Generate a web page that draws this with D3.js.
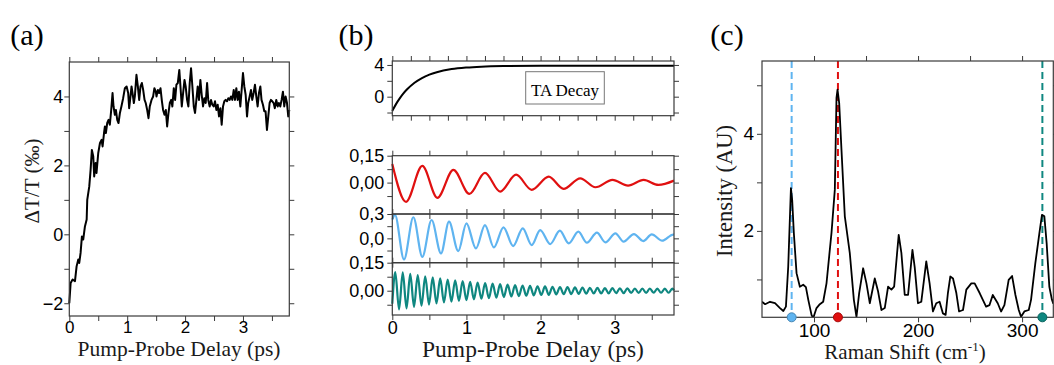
<!DOCTYPE html>
<html>
<head>
<meta charset="utf-8">
<script src="https://d3js.org/d3.v7.min.js"></script>
<style>
  body { margin: 0; background: #fff; }
  svg { display: block; }
</style>
</head>
<body>
<div id="chart"></div>
<script>
// ---- data ----

// (a) measured transient, [delay ps, dT/T permille]
var pumpProbe = [[0,-2.0],[0.023,-1.41],[0.057,-1.31],[0.098,-1.36],[0.126,-0.93],[0.155,-0.73],[0.172,-0.83],[0.195,-0.54],[0.218,-0.06],[0.241,-0.15],[0.27,0.23],[0.3,0.43],[0.31,1.0],[0.328,1.2],[0.345,1.39],[0.368,1.87],[0.39,2.45],[0.414,2.26],[0.43,1.68],[0.454,2.07],[0.47,1.78],[0.5,2.36],[0.53,2.65],[0.557,2.74],[0.575,2.55],[0.6,2.94],[0.615,3.13],[0.632,2.94],[0.655,3.23],[0.678,3.32],[0.7,3.18],[0.724,3.61],[0.747,4.1],[0.764,3.71],[0.787,3.47],[0.805,3.61],[0.828,3.32],[0.85,3.23],[0.874,3.52],[0.9,3.71],[0.93,3.95],[0.96,4.24],[0.99,4.29],[1.017,4.1],[1.034,3.66],[1.057,4.0],[1.075,4.29],[1.092,4.1],[1.115,3.81],[1.132,4.0],[1.16,4.63],[1.184,4.29],[1.207,3.9],[1.23,4.29],[1.253,4.39],[1.276,4.19],[1.3,3.9],[1.32,3.81],[1.345,3.61],[1.368,3.37],[1.39,3.71],[1.42,3.9],[1.448,4.0],[1.47,4.24],[1.494,4.14],[1.506,4.0],[1.53,4.19],[1.552,4.1],[1.575,4.24],[1.6,3.86],[1.62,3.61],[1.644,3.47],[1.667,3.61],[1.69,3.13],[1.713,3.52],[1.736,3.81],[1.76,3.9],[1.78,3.71],[1.805,4.24],[1.828,3.9],[1.85,4.34],[1.874,4.39],[1.9,4.77],[1.92,4.29],[1.943,3.71],[1.966,4.1],[1.99,4.48],[2.01,4.29],[2.034,3.9],[2.057,3.71],[2.08,4.39],[2.103,4.82],[2.126,4.29],[2.15,3.71],[2.172,3.52],[2.195,3.9],[2.218,4.29],[2.24,3.9],[2.264,4.48],[2.287,4.05],[2.31,3.71],[2.333,3.95],[2.356,3.81],[2.38,4.39],[2.4,3.9],[2.425,3.71],[2.448,3.9],[2.47,3.76],[2.494,3.71],[2.517,3.86],[2.54,3.61],[2.563,3.76],[2.586,3.42],[2.61,3.66],[2.632,3.18],[2.655,3.71],[2.678,3.86],[2.7,3.9],[2.724,3.86],[2.747,3.95],[2.77,3.9],[2.793,4.0],[2.816,3.9],[2.84,4.19],[2.862,3.9],[2.885,4.24],[2.908,3.9],[2.93,4.14],[2.954,3.71],[2.977,4.19],[3.0,4.68],[3.023,4.29],[3.046,4.05],[3.07,3.42],[3.09,3.81],[3.115,4.0],[3.138,4.19],[3.16,3.9],[3.184,4.1],[3.207,4.34],[3.23,4.0],[3.253,3.71],[3.276,4.1],[3.3,4.29],[3.32,3.9],[3.345,3.76],[3.368,3.57],[3.39,3.57],[3.414,3.03],[3.437,3.42],[3.46,3.81],[3.483,3.9],[3.506,3.86],[3.53,3.81],[3.55,3.66],[3.575,3.9],[3.6,3.71],[3.62,3.81],[3.644,3.71],[3.667,3.9],[3.69,4.14],[3.713,3.71],[3.736,4.0],[3.76,3.81],[3.782,3.42],[3.8,3.61]];

// (b) fitted TA decay
var taDecay = [[0,-1.8],[0.05,-0.94],[0.1,-0.22],[0.15,0.41],[0.2,0.93],[0.3,1.76],[0.4,2.35],[0.5,2.78],[0.6,3.09],[0.8,3.48],[1.0,3.68],[1.2,3.79],[1.5,3.86],[2.0,3.89],[3.0,3.9],[3.8,3.9]];

// (b) oscillatory components, extrema [delay ps, value]
var redOsc = [[0,0.104],[0.185,-0.107],[0.405,0.093],[0.608,-0.085],[0.824,0.071],[1.04,-0.063],[1.25,0.054],[1.455,-0.05],[1.67,0.044],[1.88,-0.04],[2.11,0.033],[2.31,-0.035],[2.535,0.024],[2.74,-0.026],[2.97,0.015],[3.18,-0.017],[3.39,0.015],[3.59,-0.013],[3.8,0.011]];

var blueOsc = [[0,0.23],[0.036,0.288],[0.158,-0.26],[0.284,0.26],[0.405,-0.227],[0.53,0.226],[0.657,-0.185],[0.765,0.205],[0.89,-0.157],[1.0,0.185],[1.128,-0.124],[1.25,0.164],[1.37,-0.111],[1.5,0.136],[1.63,-0.095],[1.76,0.123],[1.88,-0.083],[1.995,0.102],[2.13,-0.07],[2.26,0.094],[2.38,-0.062],[2.51,0.082],[2.625,-0.054],[2.76,0.07],[2.875,-0.05],[3.01,0.062],[3.12,-0.041],[3.26,0.053],[3.385,-0.033],[3.5,0.049],[3.64,-0.029],[3.79,0.047],[3.8,0.046]];

var tealOsc = [[0,-0.07],[0.040,0.100],[0.091,-0.100],[0.141,0.098],[0.192,-0.094],[0.242,0.090],[0.293,-0.086],[0.343,0.084],[0.394,-0.080],[0.444,0.077],[0.495,-0.074],[0.545,0.071],[0.596,-0.068],[0.646,0.066],[0.697,-0.063],[0.747,0.060],[0.798,-0.058],[0.848,0.056],[0.899,-0.054],[0.949,0.052],[1.000,-0.050],[1.050,0.048],[1.101,-0.046],[1.151,0.044],[1.202,-0.043],[1.252,0.041],[1.303,-0.040],[1.353,0.038],[1.404,-0.037],[1.454,0.035],[1.505,-0.034],[1.555,0.033],[1.606,-0.031],[1.656,0.030],[1.707,-0.029],[1.757,0.028],[1.808,-0.027],[1.858,0.026],[1.909,-0.025],[1.959,0.024],[2.010,-0.023],[2.060,0.023],[2.111,-0.022],[2.161,0.021],[2.212,-0.020],[2.262,0.020],[2.313,-0.019],[2.363,0.019],[2.414,-0.018],[2.464,0.018],[2.515,-0.017],[2.565,0.017],[2.616,-0.016],[2.666,0.016],[2.717,-0.015],[2.767,0.015],[2.818,-0.015],[2.868,0.014],[2.919,-0.014],[2.969,0.014],[3.020,-0.013],[3.070,0.013],[3.121,-0.013],[3.171,0.013],[3.222,-0.012],[3.272,0.012],[3.323,-0.012],[3.373,0.012],[3.424,-0.012],[3.474,0.012],[3.525,-0.011],[3.575,0.011],[3.626,-0.011],[3.676,0.011],[3.727,-0.011],[3.777,0.011],[3.8,0.002]];

// (c) Raman spectrum, [shift cm-1, intensity]
var raman = [[50,0.54],[53,0.49],[57.7,0.54],[62.5,0.51],[67.3,0.41],[70.5,0.35],[73,0.44],[75.2,1.26],[77.8,2.88],[79,2.64],[80.6,1.96],[83.2,1.13],[86.4,0.85],[89.6,0.89],[92.2,0.84],[94.5,0.58],[97.6,0.27],[99.2,0.2],[102.4,0.41],[105.6,0.49],[108.8,0.54],[112,0.92],[116.8,1.96],[120,2.85],[121.6,4.74],[122.6,4.91],[124.2,4.63],[126.4,3.67],[129.6,2.3],[134.4,1.54],[138.3,0.58],[140.8,0.23],[143.4,0.72],[147.2,1.23],[150.4,0.92],[153.6,0.51],[158.4,1.02],[161.6,0.75],[164.8,0.37],[168,0.41],[171.2,0.85],[174.4,0.79],[177,0.85],[181.4,1.92],[184,1.54],[187.2,0.68],[190.4,0.68],[194.6,1.61],[196.8,1.25],[199.9,0.51],[203.1,0.54],[207.9,1.37],[211.1,0.92],[214.3,0.34],[217.5,0.51],[220.7,0.54],[223.9,0.3],[226.5,0.27],[228.7,0.72],[231,1.06],[233.6,1.02],[236.8,0.72],[239.4,0.34],[243.2,0.37],[246.4,0.79],[251.2,0.92],[254.4,0.92],[259.2,0.72],[265.4,0.44],[268.6,0.47],[271.8,0.68],[276.6,0.51],[279.8,0.34],[283,0.47],[287.1,0.99],[290.4,1.07],[293.6,0.68],[296.8,0.37],[299,0.23],[302.2,0.34],[306.4,0.37],[308.6,0.58],[312.7,1.33],[316.6,1.95],[319.1,2.33],[321.4,2.3],[323.6,1.75],[326.2,0.85],[328.7,0.58],[330,0.5]];

var modeShifts = [78.5, 123, 319.5];
var modeColors = ["#5fb4f0", "#e01010", "#0f8780"];

var delayTicks = [0, 1, 2, 3];
var ramanTicks = [100, 200, 300];

// ---- drawing ----
var svgWidth = 1054;
var svgHeight = 365;
var frameColor = "#3a3a3a";
var sansFont = "'Liberation Sans', Arial, sans-serif";
var serifFont = "'Liberation Serif', 'Times New Roman', serif";
var commaFmt = d3.formatLocale({decimal: ",", thousands: ".", grouping: [3], currency: ["", ""]});

var svg = d3.select("#chart")
    .append("svg")
    .attr("width", svgWidth)
    .attr("height", svgHeight);

// one set of ticks on one side of a frame
function ticks(axisFn, scale, transform, values, fmt, fontSize, pad) {
    var axis = axisFn(scale)
        .tickValues(values)
        .tickSize(5)
        .tickSizeOuter(0)
        .tickPadding(pad == null ? 3 : pad)
        .tickFormat(fmt || (() => ""));
    var g = svg.append("g")
        .attr("transform", transform)
        .call(axis);
    g.select(".domain").remove();
    g.attr("font-family", sansFont).attr("font-size", fontSize || 18);
    g.selectAll(".tick line").attr("stroke", frameColor).attr("stroke-width", 1);
    g.selectAll(".tick text").attr("fill", "#000");
    return g;
}

// boxed frame with ticks on all four sides
function frame(x, y, o) {
    var x0 = x.range()[0], x1 = x.range()[1];
    var yb = y.range()[0], yt = y.range()[1];
    ticks(d3.axisBottom, x, `translate(0,${yb})`, o.xTicks, o.xLabels ? d => o.xShow.includes(d) ? d3.format("d")(d) : "" : null, o.xFont || o.fontSize, o.xPad == null ? 1 : o.xPad);
    ticks(d3.axisTop, x, `translate(0,${yt})`, o.xTicks, null);
    ticks(d3.axisLeft, y, `translate(${x0},0)`, o.yTicks, d => o.yShow.includes(d) ? o.yFmt(d) : "", o.fontSize, o.yPad);
    ticks(d3.axisRight, y, `translate(${x1},0)`, o.yTicks, null);
    svg.append("rect")
        .attr("x", x0).attr("y", yt)
        .attr("width", x1 - x0).attr("height", yb - yt)
        .attr("fill", "none")
        .attr("stroke", frameColor)
        .attr("stroke-width", 1.2);
}

function trace(x, y, data, color, width, curve) {
    var line = d3.line()
        .x(d => x(d[0]))
        .y(d => y(d[1]))
        .curve(curve || d3.curveLinear);
    return svg.append("path")
        .datum(data)
        .attr("fill", "none")
        .attr("stroke", color)
        .attr("stroke-width", width)
        .attr("stroke-linejoin", "round")
        .attr("d", line);
}

function label(txt, x, y, size, rotate, color) {
    var t = svg.append("text")
        .attr("font-family", serifFont)
        .attr("font-size", size)
        .attr("fill", color || "#1a1a1a")
        .attr("text-anchor", "middle")
        .text(txt);
    if (rotate) t.attr("transform", `translate(${x},${y}) rotate(-90)`);
    else t.attr("x", x).attr("y", y);
    return t;
}

// ---------- panel (a) ----------
var xA = d3.scaleLinear().domain([0, 3.8]).range([69.3, 289.3]);
var yA = d3.scaleLinear().domain([-2.37, 5.0]).range([316, 62]);
trace(xA, yA, pumpProbe, "#000", 2);
frame(xA, yA, {
    xTicks: [0, 0.5, 1, 1.5, 2, 2.5, 3, 3.5], xShow: delayTicks, xLabels: true,
    yTicks: [-2, -1, 0, 1, 2, 3, 4], yShow: [-2, 0, 2, 4], yFmt: d3.format("d"),
    fontSize: 18, yPad: 1, xFont: 17, xPad: 0
});
label("(a)", 27, 45, 30, false, "#000");
label("\u0394T/T (\u2030)", 39, 181, 21, true);
label("Pump-Probe Delay (ps)", 179, 356, 21.5);

// ---------- panel (b) ----------
var xB = d3.scaleLinear().domain([0, 3.8]).range([392.3, 674]);
var bHalfTicks = [0, 0.5, 1, 1.5, 2, 2.5, 3, 3.5];

var yTA = d3.scaleLinear().domain([-2.4, 4.5]).range([115.7, 61]);
trace(xB, yTA, taDecay, "#000", 2, d3.curveMonotoneX);
frame(xB, yTA, {
    xTicks: d3.range(0, 3.8, 0.25), xShow: [], xLabels: false,
    yTicks: [-2, 0, 2, 4], yShow: [0, 4], yFmt: d3.format("d"),
    fontSize: 18
});
svg.append("rect")
    .attr("x", 525.7).attr("y", 71.7)
    .attr("width", 78.6).attr("height", 32.3)
    .attr("fill", "#fff")
    .attr("stroke", "#777")
    .attr("stroke-width", 1);
label("TA Decay", 565, 96, 17, false, "#000");

var yRed = d3.scaleLinear().domain([-0.175, 0.15]).range([214, 155.7]);
var yBlue = d3.scaleLinear().domain([-0.3, 0.3]).range([262.7, 214]);
var yTeal = d3.scaleLinear().domain([-0.13, 0.15]).range([315, 262.7]);

trace(xB, yRed, redOsc, "#e01010", 2.2, d3.curveMonotoneX);
trace(xB, yBlue, blueOsc, "#5fb4f0", 2.2, d3.curveMonotoneX);
trace(xB, yTeal, tealOsc, "#0f8780", 2.2, d3.curveMonotoneX);

frame(xB, yRed, {
    xTicks: bHalfTicks, xShow: [], xLabels: false,
    yTicks: [-0.075, 0, 0.075, 0.15], yShow: [0, 0.15], yFmt: commaFmt.format(".2f"),
    fontSize: 18
});
frame(xB, yBlue, {
    xTicks: bHalfTicks, xShow: [], xLabels: false,
    yTicks: [-0.15, 0, 0.15, 0.3], yShow: [0, 0.3], yFmt: commaFmt.format(".1f"),
    fontSize: 18
});
frame(xB, yTeal, {
    xTicks: bHalfTicks, xShow: delayTicks, xLabels: true,
    yTicks: [-0.075, 0, 0.075, 0.15], yShow: [0, 0.15], yFmt: commaFmt.format(".2f"),
    fontSize: 18
});
label("(b)", 356, 45, 30, false, "#000");
label("Pump-Probe Delay (ps)", 533, 357, 23.5);

// ---------- panel (c) ----------
var xC = d3.scaleLinear().domain([50, 330]).range([762, 1053.3]);
var yC = d3.scaleLinear().domain([0.22, 5.5]).range([317.3, 61]);

svg.append("clipPath").attr("id", "clipC")
    .append("rect")
    .attr("x", 762).attr("y", 61)
    .attr("width", 291.3).attr("height", 256.3);

var modeGroup = svg.append("g").attr("clip-path", "url(#clipC)");
modeGroup.selectAll(".mode")
    .data(modeShifts)
    .enter()
    .append("line")
    .classed("mode", true)
    .attr("x1", d => xC(d)).attr("x2", d => xC(d))
    .attr("y1", yC.range()[1]).attr("y2", yC.range()[0])
    .attr("stroke", (d, i) => modeColors[i])
    .attr("stroke-width", 2)
    .attr("stroke-dasharray", "7,4");

trace(xC, yC, raman, "#000", 1.8).attr("clip-path", "url(#clipC)");

frame(xC, yC, {
    xTicks: [100, 150, 200, 250, 300], xShow: ramanTicks, xLabels: true,
    yTicks: [1, 2, 3, 4, 5], yShow: [2, 4], yFmt: d3.format("d"),
    fontSize: 19
});

svg.selectAll(".modeDot")
    .data(modeShifts)
    .enter()
    .append("circle")
    .classed("modeDot", true)
    .attr("cx", d => xC(d))
    .attr("cy", yC.range()[0])
    .attr("r", 4.5)
    .attr("fill", (d, i) => modeColors[i])
    .attr("stroke", (d, i) => d3.color(modeColors[i]).darker(0.8))
    .attr("stroke-width", 1);

label("(c)", 727, 45, 30, false, "#000");
label("Intensity (AU)", 732, 191, 22.5, true);
var ramanLabel = label("Raman Shift (cm", 905, 359, 21);
ramanLabel.append("tspan").attr("font-size", 13).attr("dy", -8).text("-1");
ramanLabel.append("tspan").attr("dy", 8).text(")");
</script>
</body>
</html>
